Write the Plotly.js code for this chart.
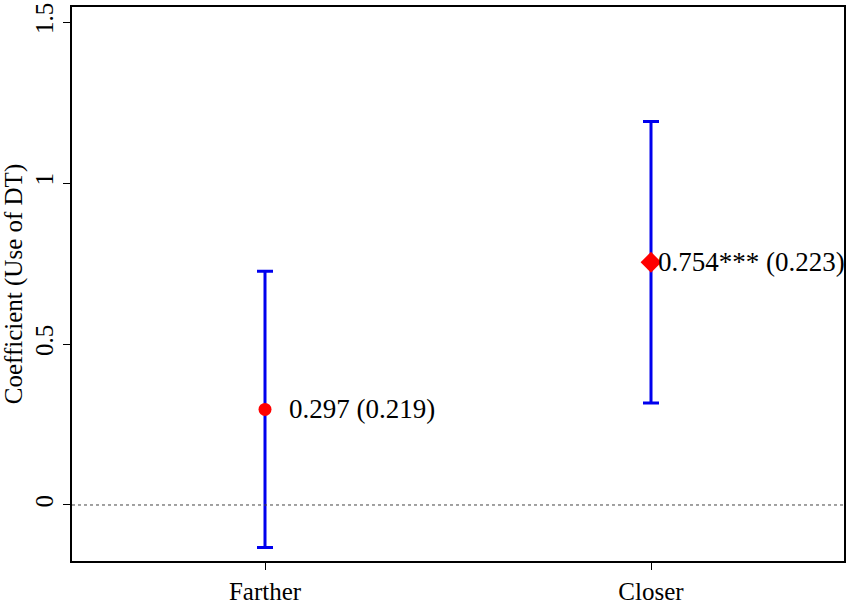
<!DOCTYPE html>
<html>
<head>
<meta charset="utf-8">
<script src="https://cdn.plot.ly/plotly-3.0.1.min.js"></script>
<style>html,body{margin:0;padding:0;background:#fff;}#chart{width:851px;height:607px;}</style>
</head>
<body>
<div id="chart"></div>
<script>
const categories = ["Farther", "Closer"];
const positions = [1, 2];
const coefficients = [0.297, 0.754];
const stdErrors = [0.219, 0.223];
const stars = ["", "***"];
const markerSymbols = ["circle", "diamond"];
const yTickVals = [0, 0.5, 1, 1.5];
const yTickText = ["0", "0.5", "1", "1.5"];

const ci = stdErrors.map(s => 1.96 * s);
const labels = coefficients.map((c, i) => c.toFixed(3) + stars[i] + " (" + stdErrors[i].toFixed(3) + ")");

const font = {family: "Liberation Serif", color: "#000", size: 25};
const annFont = {family: "Liberation Serif", color: "#000", size: 27};

const traces = [{
  type: "scatter",
  mode: "markers",
  x: positions,
  y: coefficients,
  error_y: {type: "data", array: ci, visible: true, color: "#0000ee", thickness: 3, width: 8},
  marker: {color: "#ff0000", size: [13, 16], symbol: markerSymbols, opacity: 1, line: {width: 0}},
  showlegend: false,
  hoverinfo: "skip"
}];

const annotations = positions.map((p, i) => ({
  x: p, y: coefficients[i], xref: "x", yref: "y",
  text: labels[i], showarrow: false,
  xanchor: "left", yanchor: "middle",
  xshift: i === 0 ? 22 : 5,
  font: annFont
}));

const layout = {
  width: 851, height: 607,
  margin: {l: 72, r: 7, t: 7, b: 46},
  paper_bgcolor: "#fff", plot_bgcolor: "#fff",
  font: font,
  xaxis: {
    range: [0.5, 2.5], tickvals: positions, ticktext: categories,
    showgrid: false, zeroline: false, ticks: "outside", ticklen: 7, tickwidth: 1, tickcolor: "#000",
    showline: true, linecolor: "#000", linewidth: 2, mirror: true,
    tickfont: font
  },
  yaxis: {
    range: [-0.174, 1.547], tickvals: yTickVals, ticktext: yTickText, tickangle: -90,
    showgrid: false, zeroline: false, ticks: "outside", ticklen: 7, tickwidth: 1, tickcolor: "#000",
    showline: true, linecolor: "#000", linewidth: 2, mirror: true,
    tickfont: font,
    title: {text: "Coefficient (Use of DT)", font: {family: "Liberation Serif", color: "#000", size: 25}, standoff: 6}
  },
  shapes: [{
    type: "line", xref: "paper", yref: "y", x0: 0, x1: 1, y0: 0, y1: 0,
    line: {color: "#444", width: 1, dash: "dot"}
  }],
  annotations: annotations
};

Plotly.newPlot("chart", traces, layout, {displayModeBar: false, staticPlot: true});
</script>
</body>
</html>
